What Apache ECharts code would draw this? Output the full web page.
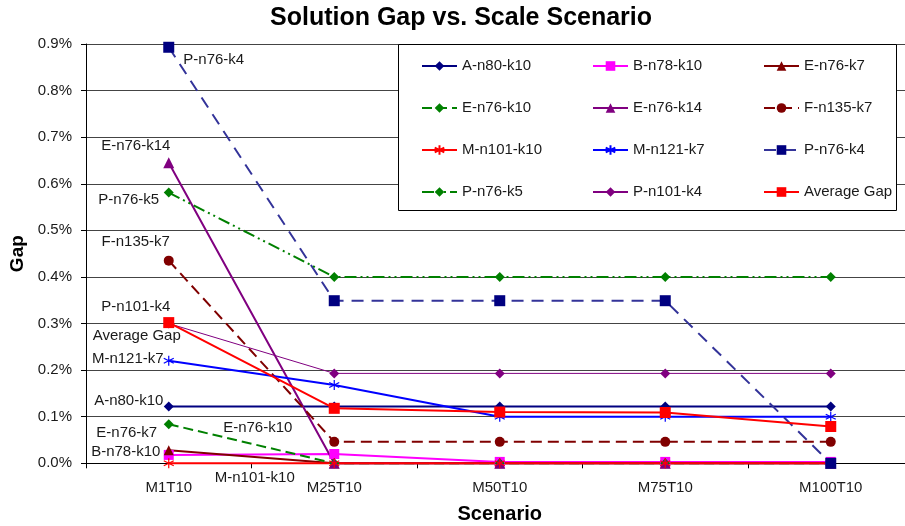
<!DOCTYPE html>
<html>
<head>
<meta charset="utf-8">
<script src="https://cdn.jsdelivr.net/npm/echarts@6/dist/echarts.min.js"></script>
<style>html,body{margin:0;padding:0;background:#fff;}#c{width:905px;height:526px;}</style>
</head>
<body>
<div id="c"></div>
<script>
var categories = ['M1T10', 'M25T10', 'M50T10', 'M75T10', 'M100T10'];
var yTicks = [0, 0.1, 0.2, 0.3, 0.4, 0.5, 0.6, 0.7, 0.8, 0.9];
var A_n80_k10 = [0.122, 0.122, 0.122, 0.122, 0.122];
var B_n78_k10 = [0.018, 0.020, 0.003, 0.003, 0.003];
var E_n76_k7 = [0.028, 0, 0, 0, 0];
var E_n76_k10 = [0.084, 0, 0, 0, 0];
var E_n76_k14 = [0.645, 0, 0, 0, 0];
var F_n135_k7 = [0.435, 0.046, 0.046, 0.046, 0.046];
var M_n101_k10 = [0, 0, 0, 0, 0];
var M_n121_k7 = [0.220, 0.168, 0.100, 0.100, 0.100];
var P_n76_k4 = [0.893, 0.349, 0.349, 0.349, 0];
var P_n76_k5 = [0.581, 0.400, 0.400, 0.400, 0.400];
var P_n101_k4 = [0.300, 0.193, 0.193, 0.193, 0.193];
var Average_Gap = [0.302, 0.118, 0.110, 0.109, 0.079];

var FONT = 'Liberation Sans, Arial, sans-serif';
var TXT = '#1a1a1a';
var ASTER = 'path://M5,0L5,10M0.7,2.5L9.3,7.5M0.7,7.5L9.3,2.5';

function mk(name, data, color, opts) {
  opts = opts || {};
  var s = {
    name: name, type: 'line', data: data.map(function (v) { return v; }),
    clip: false,
    symbol: opts.symbol || 'diamond',
    symbolSize: opts.size || 9,
    lineStyle: { color: opts.lineColor || color, width: opts.width || 2, type: opts.dash || 'solid' },
    itemStyle: { color: opts.fill === false ? 'none' : color, borderColor: color, borderWidth: opts.symbol === ASTER ? 1.2 : 0 },
    emphasis: { disabled: true },
    z: opts.z || 2
  };
  if (opts.label) {
    var l = opts.label;
    s.data[l.idx] = {
      value: data[l.idx],
      label: {
        show: true, formatter: name, position: 'inside', align: 'center', verticalAlign: 'middle',
        offset: l.off, color: TXT, fontSize: 15, fontFamily: FONT
      }
    };
  }
  return s;
}

var series = [
  mk('A-n80-k10', A_n80_k10, '#000080', { symbol: 'diamond', size: 10, label: { idx: 0, off: [-40, -6] } }),
  mk('B-n78-k10', B_n78_k10, '#FF00FF', { symbol: 'rect', size: 10, label: { idx: 0, off: [-43, -3] } }),
  mk('E-n76-k7', E_n76_k7, '#800000', { symbol: 'triangle', size: 10, label: { idx: 0, off: [-42, -17] } }),
  mk('E-n76-k10', E_n76_k10, '#008000', { symbol: 'diamond', size: 10, dash: [10, 5], label: { idx: 0, off: [89, 4] } }),
  mk('E-n76-k14', E_n76_k14, '#800080', { symbol: 'triangle', size: 11, label: { idx: 0, off: [-33, -17] } }),
  mk('F-n135-k7', F_n135_k7, '#800000', { symbol: 'circle', size: 10, dash: [11, 6], label: { idx: 0, off: [-33, -19] } }),
  mk('M-n101-k10', M_n101_k10, '#FF0000', { symbol: ASTER, size: 10, fill: false, label: { idx: 0, off: [86, 15] } }),
  mk('M-n121-k7', M_n121_k7, '#0000FF', { symbol: ASTER, size: 10, fill: false, label: { idx: 0, off: [-41, -2] } }),
  mk('P-n76-k4', P_n76_k4, '#000080', { symbol: 'rect', size: 11, lineColor: '#333399', dash: [12, 8], label: { idx: 0, off: [45, 13] } }),
  mk('P-n76-k5', P_n76_k5, '#008000', { symbol: 'diamond', size: 10, dash: [12, 4, 2, 4, 2, 4], label: { idx: 0, off: [-40, 7] } }),
  mk('P-n101-k4', P_n101_k4, '#800080', { symbol: 'diamond', size: 10, width: 1, label: { idx: 0, off: [-33, -17] } }),
  mk('Average Gap', Average_Gap, '#FF0000', { symbol: 'rect', size: 11, label: { idx: 0, off: [-32, 13] } })
];

function legendCol(left, names) {
  return {
    orient: 'vertical', left: left, top: 58.5, itemWidth: 35, itemHeight: 12, itemGap: 27,
    selectedMode: false, padding: 0,
    textStyle: { color: TXT, fontSize: 15, fontFamily: FONT },
    data: names
  };
}

var chart = echarts.init(document.getElementById('c'), null, { renderer: 'canvas' });
chart.setOption({
  animation: false,
  backgroundColor: '#fff',
  title: {
    text: 'Solution Gap vs. Scale Scenario', left: 270, top: 6, padding: 0,
    textStyle: { fontSize: 25, fontWeight: 'bold', color: '#000', fontFamily: FONT }
  },
  grid: { left: 86, top: 44, width: 827.5, height: 419.3, containLabel: false, outerBoundsMode: 'none' },
  legend: [
    legendCol(421, ['A-n80-k10', 'E-n76-k10', 'M-n101-k10', 'P-n76-k5']),
    legendCol(592, ['B-n78-k10', 'E-n76-k14', 'M-n121-k7', 'P-n101-k4']),
    legendCol(763, ['E-n76-k7', 'F-n135-k7', 'P-n76-k4', 'Average Gap'])
  ],
  graphic: [{
    type: 'rect', z: 1, shape: { x: 398.5, y: 44.5, width: 498, height: 166 },
    style: { fill: '#fff', stroke: '#000', lineWidth: 1 }
  }],
  xAxis: {
    type: 'category', data: categories, boundaryGap: true,
    name: 'Scenario', nameLocation: 'middle', nameGap: 41,
    nameTextStyle: { fontSize: 20, fontWeight: 'bold', color: '#000', fontFamily: FONT },
    axisLine: { lineStyle: { color: '#000', width: 1 } },
    axisTick: { show: true, length: 5, lineStyle: { color: '#000' } },
    axisLabel: { color: TXT, fontSize: 15, fontFamily: FONT, margin: 17 },
    splitLine: { show: false }
  },
  yAxis: {
    type: 'value', min: yTicks[0], max: yTicks[yTicks.length - 1], interval: 0.1,
    name: 'Gap', nameLocation: 'middle', nameGap: 51, nameRotate: 90,
    nameTextStyle: { fontSize: 19, fontWeight: 'bold', color: '#000', fontFamily: FONT },
    axisLine: { show: true, lineStyle: { color: '#000', width: 1 } },
    axisTick: { show: true, length: 5, lineStyle: { color: '#000' } },
    axisLabel: { color: TXT, fontSize: 15, fontFamily: FONT, margin: 14,
      formatter: function (v) { return v.toFixed(1) + '%'; } },
    splitLine: { show: true, lineStyle: { color: '#444', width: 1 } }
  },
  series: series
});
</script>
</body>
</html>
